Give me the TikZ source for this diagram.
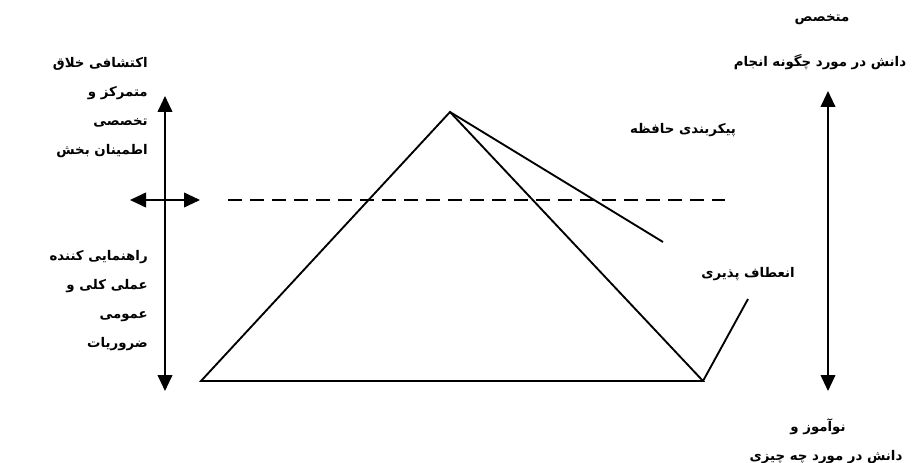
\documentclass[tikz,border=0pt]{standalone}
\usepackage{fontspec}
\newfontfamily\farsi[Script=Arabic]{DejaVu Sans}
\TeXXeTstate=1
\usetikzlibrary{arrows.meta}
\newcommand{\fa}[1]{\beginR #1\endR}
\tikzset{
  lbl/.style={font=\farsi\bfseries\fontsize{10}{21.75}\selectfont, inner sep=0pt, align=right},
  dbl/.style={{Triangle[length=12pt,width=11pt]}-{Triangle[length=12pt,width=11pt]}, line width=1.4pt},
  edge/.style={line width=1.4pt}
}
\begin{document}
\begin{tikzpicture}[x=0.75pt,y=-0.75pt]
  \useasboundingbox (0,0) rectangle (917,463);
  % pyramid
  \coordinate (apex) at (450,112);
  \coordinate (bl) at (201,381);
  \coordinate (br) at (703,381);
  \coordinate (memend) at (663,242);
  \coordinate (flexend) at (748,299);
  \draw[edge] (bl) -- (apex) -- (br) -- cycle;
  \draw[edge] (apex) -- (memend);
  \draw[edge] (br) -- (flexend);
  % level line
  \coordinate (dl) at (228,200);
  \coordinate (dr) at (725,200);
  \draw[edge, dash pattern=on 10.5pt off 6pt] (dl) -- (dr);
  % arrows
  \coordinate (lt) at (165,96);
  \coordinate (lb) at (165,391);
  \coordinate (hl) at (130,200);
  \coordinate (hr) at (200,200);
  \coordinate (rt) at (828,91);
  \coordinate (rb) at (828,391);
  \draw[dbl] (lt) -- (lb);
  \draw[dbl] (hl) -- (hr);
  \draw[dbl] (rt) -- (rb);
  % labels
  \node[lbl, anchor=east] (lefttop) at (148,108)
    {\fa{اکتشافی خلاق}\\ \fa{متمرکز و}\\ \fa{تخصصی}\\ \fa{اطمینان بخش}};
  \node[lbl, anchor=east] (leftbot) at (148,301)
    {\fa{راهنمایی کننده}\\ \fa{عملی کلی و}\\ \fa{عمومی}\\ \fa{ضروریات}};
  \node[lbl] (expert) at (822,20) {\fa{متخصص}};
  \node[lbl] (howknow) at (820,62) {\fa{دانش در مورد چگونه انجام}};
  \node[lbl] (novice) at (818,427) {\fa{نوآموز و}};
  \node[lbl] (whatknow) at (826,457) {\fa{دانش در مورد چه چیزی}};
  \node[lbl] (memory) at (683,130) {\fa{پیکربندی حافظه}};
  \node[lbl] (flex) at (748,274) {\fa{انعطاف پذیری}};
\end{tikzpicture}
\end{document}
